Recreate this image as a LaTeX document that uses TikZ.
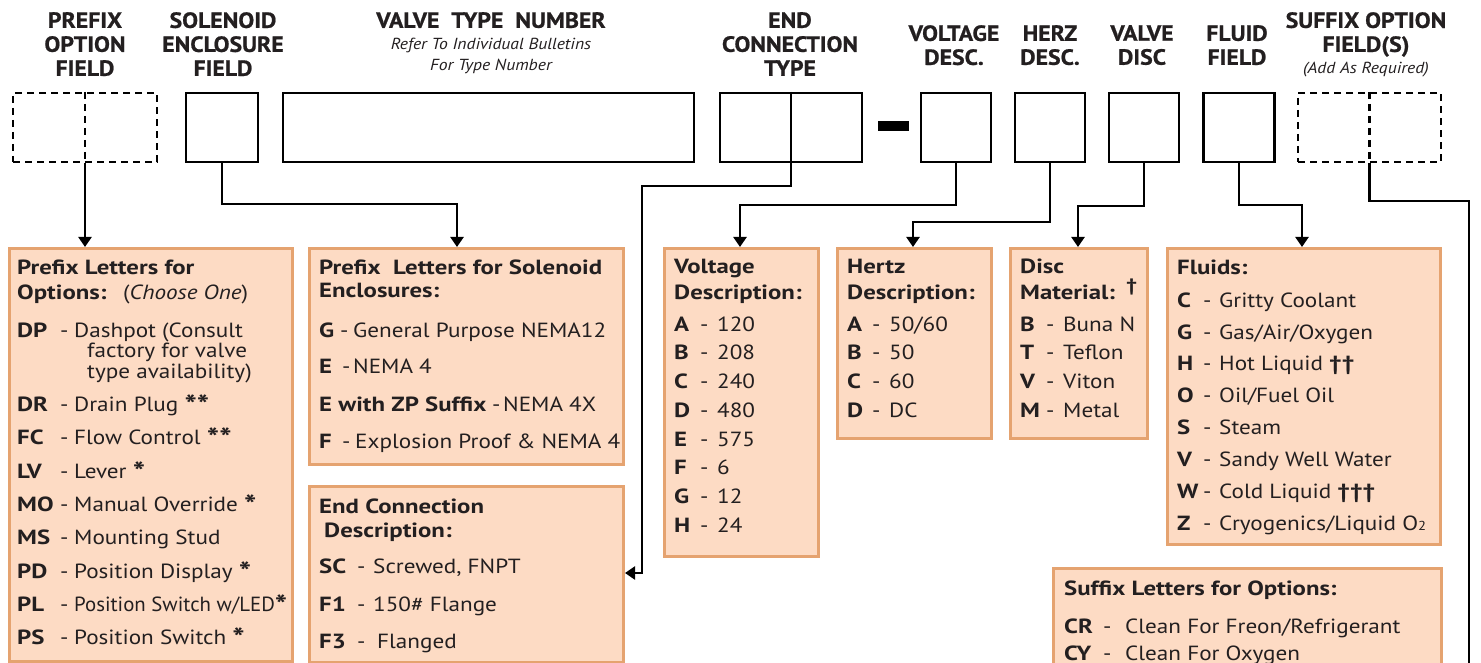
\documentclass[tikz,border=0pt]{standalone}
\usepackage{fontspec}
\usepackage{graphicx}
\setmainfont{PT Sans}[FakeStretch=1.13, BoldFeatures={FakeStretch=1.21}]
\newfontfamily\hdrfont[FakeStretch=1.08, FakeBold=0.8]{PT Sans}
\newfontfamily\subfont[FakeStretch=1.1]{PT Sans}
\usetikzlibrary{arrows.meta}
\definecolor{boxfill}{RGB}{253,219,196}
\definecolor{boxline}{RGB}{229,163,112}
\definecolor{ink}{RGB}{35,31,32}
\newcommand\myast{\raisebox{-3.5pt}{\bfseries\fontsize{27}{27}\selectfont *}}
\newcommand\myent[7]{%
  \node[code] (#1c) at (#3,#2) {#6};
  \node[body] (#1d) at (#4,#2) {-};
  \node[body] (#1t) at (#5,#2) {#7};}
\begin{document}
\begin{tikzpicture}[x=1pt,y=-1pt,
  fieldbox/.style={draw=black, line width=2.4pt, inner sep=0, minimum height=69pt},
  optbox/.style={draw=black, line width=2.2pt, dash pattern=on 7pt off 5pt, inner sep=0, minimum height=69pt},
  optline/.style={draw=black, line width=2.2pt, dash pattern=on 7pt off 5pt},
  infobox/.style={draw=boxline, fill=boxfill, line width=3pt, inner sep=0, anchor=north west},
  conn/.style={draw=black, line width=2.4pt, -{Triangle[width=13pt,length=10pt]}},
  wire/.style={draw=black, line width=2.4pt},
  hdr/.style={font=\hdrfont\bfseries\fontsize{22}{24}\selectfont, align=center, anchor=north, inner sep=0, text=ink},
  sub/.style={font=\subfont\itshape\fontsize{16}{21}\selectfont, align=center, anchor=north, inner sep=0, text=ink},
  head/.style={font=\bfseries\fontsize{20.5}{25}\selectfont, anchor=base west, inner sep=0, text=ink},
  code/.style={font=\bfseries\fontsize{20.5}{24}\selectfont, anchor=base west, inner sep=0, text=ink},
  body/.style={font=\fontsize{20.5}{24}\selectfont, anchor=base west, inner sep=0, text=ink},
]
\useasboundingbox (0,0) rectangle (1481,663);
\clip (0,0) rectangle (1481,663);

% ---------- headers ----------
\node[hdr] (hpfx) at (85,12) {PREFIX\\OPTION\\FIELD};
\node[hdr] (hsol) at (223,12) {SOLENOID\\ENCLOSURE\\FIELD};
\node[hdr] (hvt) at (491,12) {VALVE\ \ TYPE\ \ NUMBER};
\node[sub] (hvts) at (491,38) {Refer To Individual Bulletins\\For Type Number};
\node[hdr] (hend) at (790,12) {END\\CONNECTION\\TYPE};
\node[hdr] (hvolt) at (954,25) {VOLTAGE\\DESC.};
\node[hdr] (hherz) at (1050,25) {HERZ\\DESC.};
\node[hdr] (hdisc) at (1142,25) {VALVE\\DISC};
\node[hdr] (hfluid) at (1237,25) {FLUID\\FIELD};
\node[hdr] (hsuf) at (1366,12) {SUFFIX OPTION\\FIELD(S)};
\node[sub] (hsufs) at (1366,62) {(Add As Required)};

% ---------- field boxes ----------
\node[optbox, minimum width=144pt] (pfx) at (85,127.5) {};
\draw[optline] (pfx.north) -- (pfx.south);
\node[fieldbox, minimum width=72pt] (sol) at (222,127.5) {};
\node[fieldbox, minimum width=411pt] (vt) at (488.5,127.5) {};
\node[fieldbox, minimum width=142pt] (endc) at (791,127.5) {};
\draw[wire] (endc.north) -- (endc.south);
\node[fill=black, minimum width=31pt, minimum height=10pt, inner sep=0] (dash) at (893,126) {};
\node[fieldbox, minimum width=70pt] (volt) at (956,127.5) {};
\node[fieldbox, minimum width=70pt] (herz) at (1050,127.5) {};
\node[fieldbox, minimum width=70pt] (disc) at (1144,127.5) {};
\node[fieldbox, minimum width=71pt] (fluid) at (1239,127.5) {};
\node[optbox, minimum width=143pt] (sfx) at (1369.5,127.5) {};
\draw[optline] (sfx.north) -- (sfx.south);

% ---------- info boxes ----------
\node[infobox, minimum width=283pt, minimum height=413pt] (pbox) at (8,247) {};
\node[infobox, minimum width=314pt, minimum height=216pt] (sbox) at (308,247) {};
\node[infobox, minimum width=314pt, minimum height=176pt] (ecbox) at (308,485) {};
\node[infobox, minimum width=154pt, minimum height=308pt] (vbox) at (663,247) {};
\node[infobox, minimum width=154pt, minimum height=190pt] (hbox) at (836,247) {};
\node[infobox, minimum width=137pt, minimum height=190pt] (dbox) at (1009,247) {};
\node[infobox, minimum width=273pt, minimum height=296pt] (fbox) at (1166,247) {};
\node[infobox, minimum width=388pt, minimum height=150pt] (xbox) at (1052,567) {};

% ---------- connectors ----------
\draw[conn] (pfx.south) -- (pfx.south |- pbox.north);
\coordinate (solT) at (457,204);
\draw[conn] (sol.south) |- (solT) -- (solT |- sbox.north);
\coordinate (ecT) at (642,186);
\coordinate (ecB) at (642,573);
\draw[conn] (endc.south) |- (ecT) -- (ecB) -- (ecB -| ecbox.east);
\coordinate (voT) at (740,205);
\draw[conn] (volt.south) |- (voT) -- (voT |- vbox.north);
\coordinate (heT) at (913,222);
\draw[conn] (herz.south) |- (heT) -- (heT |- hbox.north);
\coordinate (diT) at (1078,206);
\draw[conn] (disc.south) |- (diT) -- (diT |- dbox.north);
\coordinate (flT) at (1302,205);
\draw[conn] (fluid.south) |- (flT) -- (flT |- fbox.north);
\coordinate (sxT) at (1469,201);
\coordinate (sxB) at (1469,670);
\draw[wire] (sfx.south) |- (sxT) -- (sxB);

% ---------- prefix options ----------
\node[head] (ph1) at (17,274) {Prefix Letters for};
\node[head] (ph2) at (17,299) {Options:};
\node[body] (ph3) at (123,299) {(\textit{Choose One})};
\myent{pdp}{337}{17}{60}{74}{DP}{Dashpot (Consult}
\node[body] (pdp2) at (87,357) {factory for valve};
\node[body] (pdp3) at (87,378) {type availability)};
\myent{pdr}{411}{17}{60}{74}{DR}{Drain Plug \myast\myast}
\myent{pfc}{444}{17}{60}{74}{FC}{Flow Control \myast\myast}
\myent{plv}{478}{17}{60}{74}{LV}{Lever \myast}
\myent{pmo}{511}{17}{60}{74}{MO}{Manual Override \myast}
\myent{pms}{544}{17}{60}{74}{MS}{Mounting Stud}
\myent{ppd}{578}{17}{60}{74}{PD}{Position Display \myast}
\myent{ppl}{611}{17}{60}{74}{PL}{\scalebox{0.9}[1]{Position Switch w/LED}\myast}
\myent{pps}{644}{17}{60}{74}{PS}{Position Switch \myast}

% ---------- solenoid enclosures ----------
\node[head] (sh1) at (319,274) {Prefix\ \ Letters for Solenoid};
\node[head] (sh2) at (319,298) {Enclosures:};
\myent{sg}{337}{319}{340}{353}{G}{General Purpose NEMA12}
\myent{se}{373}{319}{342}{353}{E}{NEMA 4}
\myent{sz}{411}{319}{492}{503}{E with ZP Suffix}{NEMA 4X}
\myent{sf}{448}{319}{342}{355}{F}{Explosion Proof \& NEMA 4}

% ---------- end connection ----------
\node[head] (eh1) at (319,513) {End Connection};
\node[head] (eh2) at (324,537) {Description:};
\myent{esc}{573}{319}{357}{373}{SC}{Screwed, FNPT}
\myent{ef1}{611}{319}{357}{373}{F1}{150\# Flange}
\myent{ef3}{648}{319}{357}{377}{F3}{Flanged}

% ---------- voltage ----------
\node[head] (vh1) at (674,273) {Voltage};
\node[head] (vh2) at (674,299) {Description:};
\myent{va}{331}{674}{700}{717}{A}{120}
\myent{vb}{359}{674}{700}{717}{B}{208}
\myent{vc}{388}{674}{700}{717}{C}{240}
\myent{vd}{417}{674}{700}{717}{D}{480}
\myent{ve}{446}{674}{700}{717}{E}{575}
\myent{vf}{474}{674}{700}{717}{F}{6}
\myent{vg}{503}{674}{700}{717}{G}{12}
\myent{vh}{532}{674}{700}{717}{H}{24}

% ---------- hertz ----------
\node[head] (hh1) at (847,273) {Hertz};
\node[head] (hh2) at (847,299) {Description:};
\myent{ha}{331}{847}{872}{889}{A}{50/60}
\myent{hb}{359}{847}{872}{889}{B}{50}
\myent{hc}{388}{847}{872}{889}{C}{60}
\myent{hd}{417}{847}{872}{889}{D}{DC}

% ---------- disc ----------
\node[head] (dh1) at (1020,273) {Disc};
\node[head] (dh2) at (1020,299) {Material:};
\node[code, font=\bfseries\fontsize{18}{20}\selectfont] (dag) at (1126,291) {†};
\myent{db}{331}{1020}{1046}{1063}{B}{Buna N}
\myent{dt}{359}{1020}{1046}{1063}{T}{Teflon}
\myent{dv}{388}{1020}{1046}{1063}{V}{Viton}
\myent{dm}{417}{1020}{1046}{1063}{M}{Metal}

% ---------- fluids ----------
\node[head] (fh) at (1177,275) {Fluids:};
\myent{fc}{307}{1177}{1203}{1219}{C}{Gritty Coolant}
\myent{fg}{339}{1177}{1203}{1219}{G}{Gas/Air/Oxygen}
\myent{fhh}{370}{1177}{1203}{1219}{H}{Hot Liquid \textbf{††}}
\myent{fo}{402}{1177}{1203}{1219}{O}{Oil/Fuel Oil}
\myent{fs}{434}{1177}{1203}{1219}{S}{Steam}
\myent{fv}{466}{1177}{1203}{1219}{V}{Sandy Well Water}
\myent{fw}{498}{1177}{1203}{1219}{W}{Cold Liquid \textbf{†††}}
\myent{fz}{530}{1177}{1203}{1219}{Z}{Cryogenics/Liquid O{\fontsize{13}{13}\selectfont 2}}

% ---------- suffix ----------
\node[head] (xh) at (1064,595) {Suffix Letters for Options:};
\myent{xcr}{633}{1064}{1103}{1125}{CR}{Clean For Freon/Refrigerant}
\myent{xcy}{660}{1064}{1103}{1125}{CY}{Clean For Oxygen}
\end{tikzpicture}
\end{document}
